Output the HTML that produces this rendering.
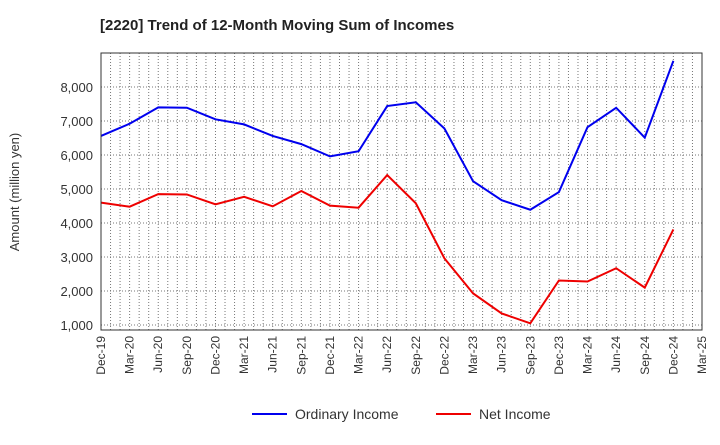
<!DOCTYPE html>
<html><head><meta charset="utf-8"><style>
body{margin:0;background:#fff;font-family:"Liberation Sans",sans-serif;}
</style></head><body>
<svg id="c" width="720" height="440" xmlns="http://www.w3.org/2000/svg">
<text x="100" y="30" font-size="15" font-weight="bold" fill="#222">[2220]  Trend of 12-Month Moving Sum of Incomes</text>
<text transform="translate(19,192) rotate(-90)" text-anchor="middle" font-size="13" fill="#333">Amount (million yen)</text>
<g id="grid"></g><g id="ticks"></g><g id="lines"></g>
<rect x="101" y="53" width="601" height="277" fill="none" stroke="#333" stroke-width="1"/>
<g>
<line x1="252" y1="414" x2="287" y2="414" stroke="#0000ee" stroke-width="2"/>
<text x="295" y="419" font-size="14" fill="#333">Ordinary Income</text>
<line x1="436" y1="414" x2="471" y2="414" stroke="#ee0000" stroke-width="2"/>
<text x="479" y="419" font-size="14" fill="#333">Net Income</text>
</g>
</svg>
<script>
const xLabels=["Dec-19","Mar-20","Jun-20","Sep-20","Dec-20","Mar-21","Jun-21","Sep-21","Dec-21","Mar-22","Jun-22","Sep-22","Dec-22","Mar-23","Jun-23","Sep-23","Dec-23","Mar-24","Jun-24","Sep-24","Dec-24","Mar-25"];
const yTicks=[1000,2000,3000,4000,5000,6000,7000,8000];
const ordinaryIncome=[6560,6920,7400,7390,7050,6900,6560,6320,5960,6110,7440,7550,6780,5230,4670,4390,4910,6820,7390,6510,8770];
const netIncome=[4600,4480,4850,4840,4550,4770,4490,4940,4510,4450,5410,4580,2960,1930,1340,1050,2310,2280,2670,2100,3810];
const NS="http://www.w3.org/2000/svg";
const L=101,R=702,T=53,B=330;
const xs=i=>L+i*(R-L)/(xLabels.length-1);
const ys=v=>325-(v-1000)*34/1000;
function mk(tag,attrs,parent){const e=document.createElementNS(NS,tag);for(const k in attrs)e.setAttribute(k,attrs[k]);document.getElementById(parent).appendChild(e);return e;}
for(let m=1;m<63;m++){const x=L+m*(R-L)/63;
 const g=mk('line',{x1:x,x2:x,y1:T,y2:B,stroke:'#777','stroke-width':1,'stroke-dasharray':'1,2'},'grid');
 
 }
for(let v=1000;v<=9000;v+=1000){const y=ys(v);if(y<T||y>B)continue;
 const g=mk('line',{x1:L,x2:R,y1:y,y2:y,stroke:'#777','stroke-width':1,'stroke-dasharray':'1,2'},'grid');
 
 }
yTicks.forEach(v=>{const t=mk('text',{x:93,y:ys(v)+5,'text-anchor':'end','font-size':13,fill:'#333'},'ticks');t.textContent=v.toLocaleString('en-US');
 
 });
xLabels.forEach((s,i)=>{const x=xs(i);const t=mk('text',{transform:`translate(${x+4},${B+6}) rotate(-90)`,'text-anchor':'end','font-size':12,fill:'#333'},'ticks');t.textContent=s;
 
 });
function series(d,col,name){const p=mk('polyline',{points:d.map((v,i)=>xs(i)+','+ys(v)).join(' '),fill:'none',stroke:col,'stroke-width':2},'lines');
 
 }
series(ordinaryIncome,'#0000ee','ordinary-income-line');
series(netIncome,'#ee0000','net-income-line');
</script>
</body></html>
